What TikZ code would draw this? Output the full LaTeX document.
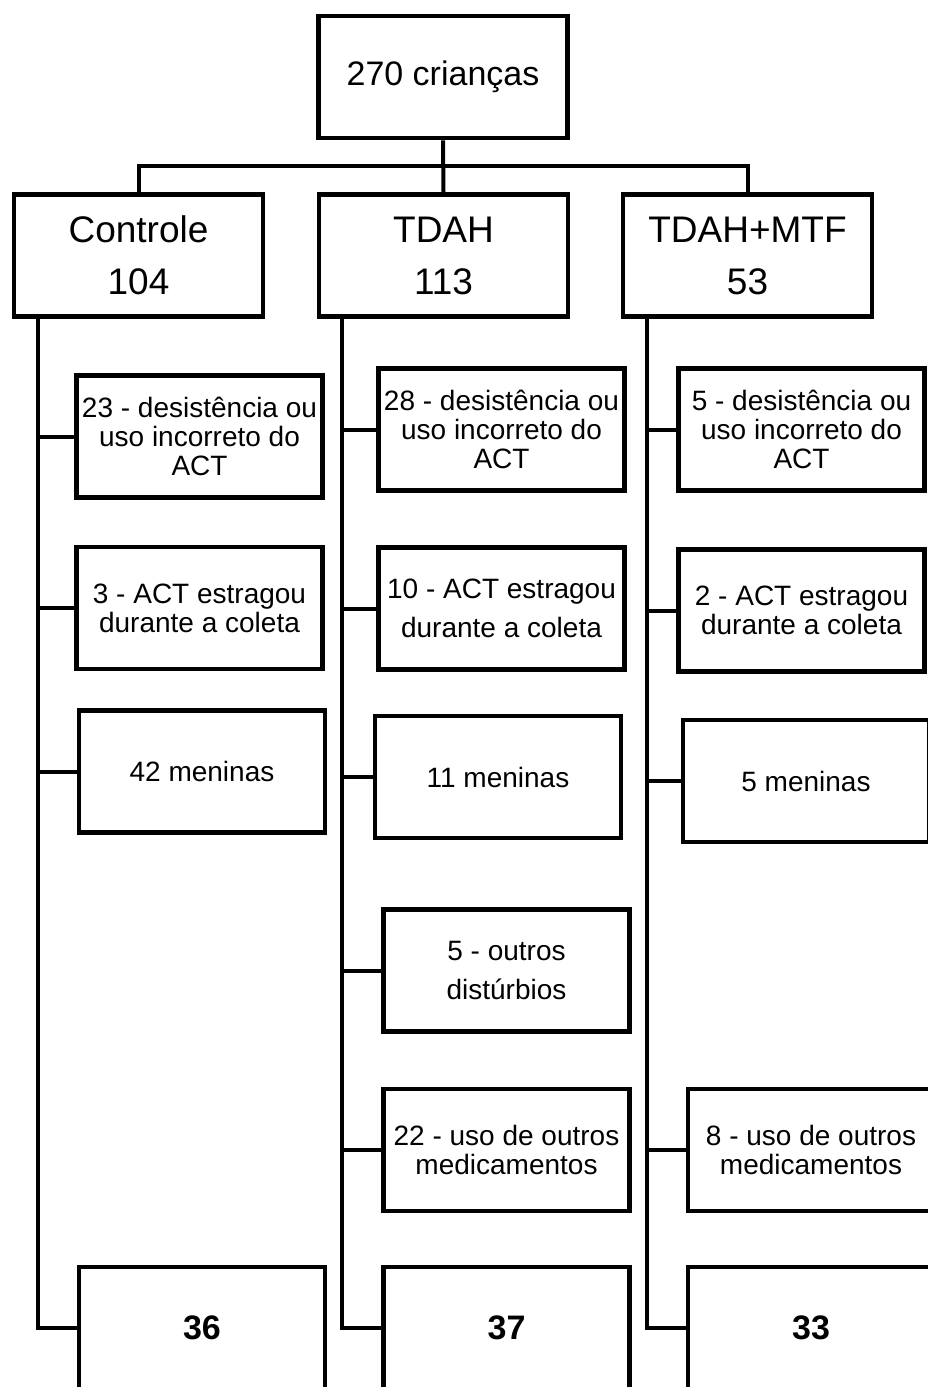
\documentclass[tikz,border=0pt]{standalone}
\usepackage{fontspec}
\setmainfont{Liberation Sans}
\usetikzlibrary{positioning}

\tikzset{
  box/.style={draw, line width=2.4pt, minimum width=123pt, minimum height=61pt,
    align=center, inner sep=1pt, font=\fontsize{14}{14.5}\selectfont},
  headbox/.style={box, minimum width=124.5pt, font=\fontsize{18.5}{26}\selectfont},
  endbox/.style={box, font=\fontsize{17}{20}\selectfont\bfseries},
  link/.style={line width=2pt}
}

\begin{document}
\begin{tikzpicture}[x=0.5pt,y=-0.5pt]
      \useasboundingbox (0,0) rectangle (927,1387);
      \node[headbox, font=\fontsize{17}{20}\selectfont] (top) at (443,77) {270 crianças};
      \node[headbox] (ctrl) at (138.5,255.5) {Controle\\104};
      \node[headbox] (tdah) at (443.5,255.5) {TDAH\\113};
      \node[headbox] (mtf) at (747.5,255.5) {TDAH+MTF\\53};
      \coordinate (bus) at (0,166);
      % top box to the three groups
      \draw [link] (top.south) -- (tdah.north);
      \draw [link] (ctrl.north) -- (ctrl.north |- bus) -- (mtf.north |- bus) -- (mtf.north);
      % Controle
      \node[box] (c1) at (199.5,436.5) {23 - desistência ou\\uso incorreto do\\ACT};
      \node[box] (c2) at (199.5,608) {3 - ACT estragou\\durante a coleta};
      \node[box] (c3) at (202,771.5) {42 meninas};
      \node[endbox] (c4) at (202,1328) {36};
      % TDAH
      \node[box] (t1) at (501.5,429.5) {28 - desistência ou\\uso incorreto do\\ACT};
      \node[box] (t2) at (501.5,608.5) {10 - ACT estragou\\[5pt]durante a coleta};
      \node[box] (t3) at (498,777) {11 meninas};
      \node[box] (t4) at (506.5,970.5) {5 - outros\\[5pt]distúrbios};
      \node[box] (t5) at (506.5,1150) {22 - uso de outros\\medicamentos};
      \node[endbox] (t6) at (506.5,1328) {37};
      % TDAH+MTF
      \node[box] (m1) at (801.5,429.5) {5 - desistência ou\\uso incorreto do\\ACT};
      \node[box] (m2) at (801.5,610.5) {2 - ACT estragou\\durante a coleta};
      \node[box] (m3) at (806,781) {5 meninas};
      \node[box] (m4) at (811,1150) {8 - uso de outros\\medicamentos};
      \node[endbox] (m5) at (811,1328) {33};
      % spines under the groups
      \coordinate (sc) at (37.5,318);
      \coordinate (st) at (341.5,318);
      \coordinate (sm) at (646.5,318);
      \draw [link] (sc) |- (c4.west);
      \draw [link] (st) |- (t6.west);
      \draw [link] (sm) |- (m5.west);
      \foreach \b in {c1,c2,c3}
        \draw [link] (\b.west) -- (\b.west -| sc);
      \foreach \b in {t1,t2,t3,t4,t5}
        \draw [link] (\b.west) -- (\b.west -| st);
      \foreach \b in {m1,m2,m3,m4}
        \draw [link] (\b.west) -- (\b.west -| sm);
\end{tikzpicture}
\end{document}
